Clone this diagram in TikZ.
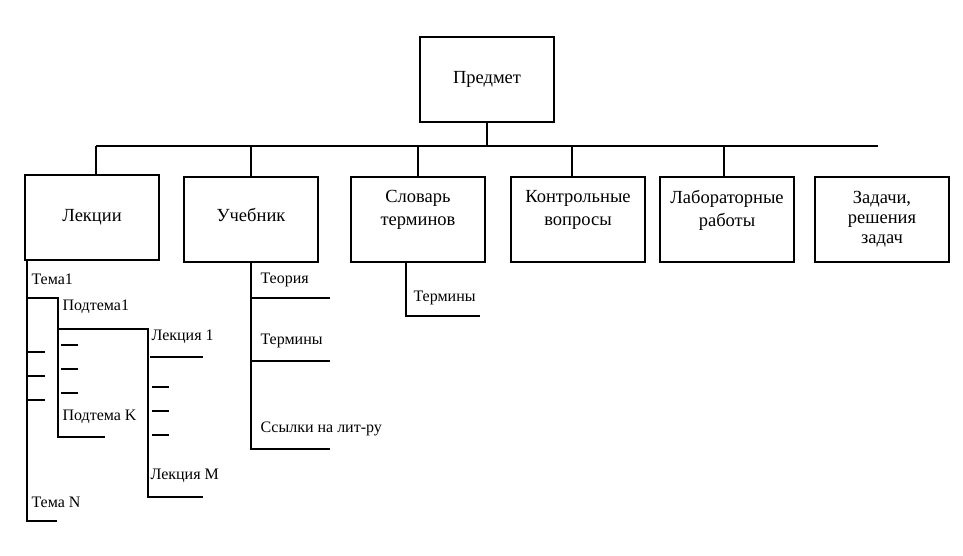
\documentclass[tikz,border=0pt]{standalone}
\usepackage{fontspec}
\setmainfont{Liberation Serif}
\usepackage{tikz}
\usetikzlibrary{positioning}

\begin{document}
\begin{tikzpicture}[x=1pt,y=-1pt,line width=1.1pt,
	box/.style={draw,rectangle,minimum width=134pt,minimum height=85pt,align=center,inner sep=2pt,font=\fontsize{18.5}{23}\selectfont},
	item/.style={anchor=west,inner sep=0pt,font=\fontsize{16}{19}\selectfont}]
			
			\useasboundingbox (0,0) rectangle (963,556);
			
			% Boxes
			\node[box] (subj) at (487,79.5) {Предмет};
			\node[box] (lect) at (92,217.5) {Лекции};
			\node[box] (book) at (251,219.5) {Учебник\\[-14pt]~};
			\node[box] (dict) at (418,219.5) {Словарь\\терминов\\~};
			\node[box] (quest) at (578,219.5) {Контрольные\\вопросы\\~};
			\node[box] (lab) at (727,219.5) {Лабораторные\\работы\\~};
			\node[box] (task) at (882,219.5) {Задачи,\\[-3pt]решения\\[-3pt]задач};
			
			% Bus
			\coordinate (busL) at (96,146);
			\coordinate (busR) at (878,146);
			\coordinate (b1) at (96,146);
			\coordinate (b2) at (251,146);
			\coordinate (b3) at (418,146);
			\coordinate (b4) at (572,146);
			\coordinate (b5) at (724,146);
			\draw (subj.south) -- (subj.south |- busL);
			\draw (busL) -- (busR);
			\draw (b1) -- (b1 |- lect.north);
			\draw (b2) -- (b2 |- book.north);
			\draw (b3) -- (b3 |- dict.north);
			\draw (b4) -- (b4 |- quest.north);
			\draw (b5) -- (b5 |- lab.north);
			
			% Lectures tree
			\node[item] (t1) at (31,279) {Тема1};
			\node[item] (st1) at (62,307) {Подтема1};
			\node[item] (l1) at (151,337) {Лекция 1};
			\node[item] (stk) at (62,417) {Подтема K};
			\node[item] (lm) at (150,476) {Лекция M};
			\node[item] (tn) at (31,502) {Тема N};
			\coordinate (t0) at (27,260);
			\coordinate (s0) at (58,298);
			\coordinate (m0) at (148,329);
			\draw (t0) -- (27,521) -- (57,521);
			\draw (27,298) -- (s0) -- (58,437) -- (105,437);
			\draw (58,329) -- (m0) -- (148,497) -- (203,497);
			\draw (150,357) -- (203,357);
			\foreach \y in {352,376,400} \draw (27,\y) -- (45,\y);
			\foreach \y in {345,369,393} \draw (61,\y) -- (78,\y);
			\foreach \y in {387,411,435} \draw (152,\y) -- (169,\y);
			
			% Textbook tree
			\node[item] (th) at (260,280) {Теория};
			\node[item] (tm) at (260,341) {Термины};
			\node[item] (ref) at (260,429) {Ссылки на лит-ру};
			\draw (book.south) -- (251,449) -- (330,449);
			\draw (251,298) -- (330,298);
			\draw (251,361) -- (330,361);
			
			% Dictionary tree
			\node[item] (dt) at (413,298) {Термины};
			\draw (406,262) -- (406,316) -- (480,316);
			
		\end{tikzpicture}
\end{document}
